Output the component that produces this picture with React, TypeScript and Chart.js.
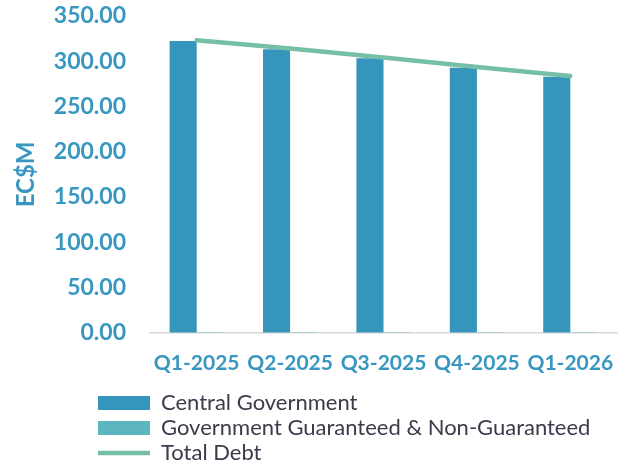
import React, { useEffect, useRef } from 'react';
import { Chart, registerables } from 'chart.js';

Chart.register(...registerables);

const categories = ['Q1-2025', 'Q2-2025', 'Q3-2025', 'Q4-2025', 'Q1-2026'];
const centralGovernment = [322.3, 313.1, 303.1, 292.7, 282.7];
const guaranteedNonGuaranteed = [0.8, 0.8, 0.8, 0.8, 0.8];
const totalDebt = [323.1, 313.9, 303.9, 293.5, 283.5];
const yMin = 0;
const yMax = 350;
const yStep = 50;
const yTitle = 'EC$M';
const seriesNames = ['Central Government', 'Government Guaranteed & Non-Guaranteed', 'Total Debt'];

const BLUE_TEXT = '#3797C0';
const FONT = 'Lato, "Open Sans", sans-serif';

const legendShift = {
  id: 'legendShift',
  afterLayout(chart: any) {
    if (chart.legend) {
      chart.legend.left = 95;
    }
  },
};

export default function App() {
  const ref = useRef<HTMLCanvasElement | null>(null);

  useEffect(() => {
    document.body.style.margin = '0';
    const ctx = ref.current;
    if (!ctx) return;
    const chart = new Chart(ctx, {
      type: 'bar',
      data: {
        labels: categories,
        datasets: [
          {
            type: 'bar',
            label: seriesNames[0],
            data: centralGovernment,
            backgroundColor: '#3595BA',
            borderWidth: 0,
            categoryPercentage: 0.58,
            barPercentage: 1.0,
            pointStyle: 'rect',
            order: 1,
          },
          {
            type: 'bar',
            label: seriesNames[1],
            data: guaranteedNonGuaranteed,
            backgroundColor: '#5BB6C0',
            borderWidth: 0,
            categoryPercentage: 0.58,
            barPercentage: 1.0,
            pointStyle: 'rect',
            order: 1,
          },
          {
            type: 'line',
            label: seriesNames[2],
            data: totalDebt,
            borderColor: '#76BFA7',
            backgroundColor: '#76BFA7',
            borderWidth: 4.5,
            borderCapStyle: 'round',
            pointRadius: 0,
            pointHoverRadius: 0,
            pointStyle: 'line',
            tension: 0,
            order: 0,
          } as any,
        ],
      },
      options: {
        animation: false,
        responsive: true,
        maintainAspectRatio: false,
        layout: { padding: { left: 8, right: 13, top: 0, bottom: -8 } },
        plugins: {
          tooltip: { enabled: false },
          legend: {
            position: 'bottom',
            align: 'start',
            labels: {
              usePointStyle: true,
              pointStyleWidth: 52,
              boxWidth: 52,
              boxHeight: 14,
              padding: 3,
              color: '#3B3B4B',
              font: { family: FONT, size: 22 },
              sort: (a: any, b: any) => a.datasetIndex - b.datasetIndex,
            },
          },
        },
        scales: {
          x: {
            grid: {
              display: true,
              drawOnChartArea: false,
              drawTicks: true,
              tickLength: 16,
              color: 'rgba(0,0,0,0)',
            },
            border: { display: true, color: '#D9D9D9', width: 1.5 },
            ticks: {
              color: BLUE_TEXT,
              font: { family: FONT, size: 21, weight: 'bold' },
              padding: 2,
              maxRotation: 0,
              autoSkip: false,
            },
            afterFit: (scale: any) => {
              scale.height = 56;
            },
          },
          y: {
            min: yMin,
            max: yMax,
            grid: {
              display: true,
              drawOnChartArea: false,
              drawTicks: true,
              tickLength: 22,
              color: 'rgba(0,0,0,0)',
            },
            border: { display: false },
            ticks: {
              stepSize: yStep,
              color: BLUE_TEXT,
              font: { family: FONT, size: 23, weight: 'bold' },
              padding: 2,
              callback: (v: any) => Number(v).toFixed(2),
            },
            title: {
              display: true,
              text: yTitle,
              color: BLUE_TEXT,
              font: { family: FONT, size: 24, weight: 'bold' },
              padding: { top: 4, bottom: 4 },
            },
            afterFit: (scale: any) => {
              scale.width = 142;
            },
          },
        },
      },
      plugins: [legendShift],
    } as any);
    return () => chart.destroy();
  }, []);

  return (
    <div style={{ position: 'fixed', left: 0, top: 0, width: 630, height: 466, background: '#fff' }}>
      <canvas ref={ref} />
    </div>
  );
}
